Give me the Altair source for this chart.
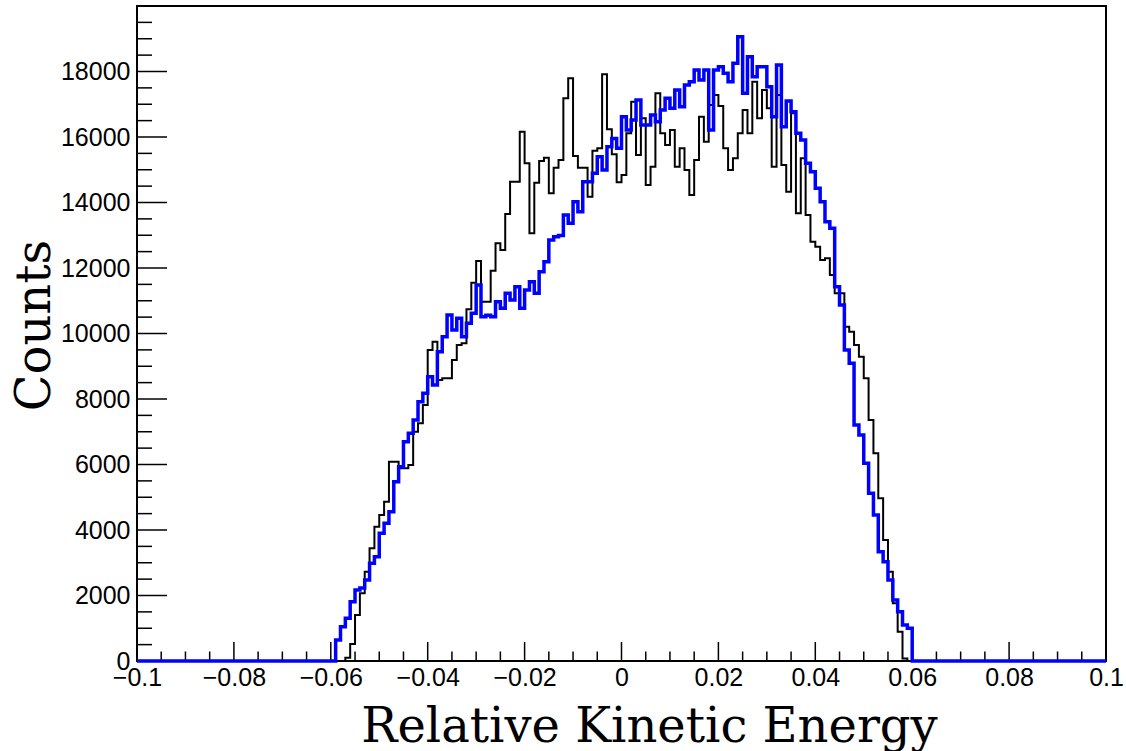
import altair as alt
import pandas as pd

# ---------------- data ----------------
X_MIN, X_MAX, N_BINS = -0.1, 0.1, 200
BIN_W = 0.001

# black histogram: first non-zero bin index and counts
black_start = 43
black_counts = [
    100, 520, 1404, 2067, 2727, 3440, 4102, 4458, 4865, 6086,
    6086, 5883, 5883, 5985, 7003, 7257, 7817, 9496, 9750, 8580,
    8631, 8631, 9190, 9649, 9700, 10738, 11552, 12214, 10972, 10972,
    11918, 12753, 12550, 13649, 14636, 14636, 16163, 15196, 13058, 14606,
    15267, 15369, 14280, 15064, 15298, 17181, 17792, 15420, 15064, 15064,
    14178, 15583, 15654, 17913, 16234, 15470, 14620, 14840, 16112, 17079,
    15450, 16570, 14534, 15094, 17333, 16112, 15756, 16214, 15094, 15654,
    14992, 14229, 15298, 16621, 15858, 16977, 17282, 16947, 15654, 14992,
    15349, 16112, 16824, 16112, 17690, 16570, 17435, 16876, 15094, 17282,
    15145, 14331, 16722, 13669, 15349, 13618, 12804, 12651, 12244, 12295,
    11786, 11226, 11226, 10208, 10056, 9649, 9292, 8631, 7359, 6342,
    4968, 3695, 2727, 1761, 895, 80,
]

# blue histogram: first non-zero bin index and counts
blue_start = 41
blue_counts = [
    641, 1047, 1303, 1811, 2168, 2230, 2473, 2983, 3185, 3899,
    4204, 4559, 5476, 5933, 6697, 6952, 7359, 7918, 8174, 8681,
    8427, 9444, 9902, 10565, 10107, 10463, 9900, 10310, 10616, 11481,
    10513, 10560, 10513, 10972, 10769, 11227, 11023, 11430, 10769, 11328,
    11582, 11227, 11887, 12193, 12855, 12957, 12990, 13618, 13364, 14025,
    13720, 14636, 14636, 14891, 15399, 14992, 15704, 15958, 15654, 16620,
    16213, 16519, 17130, 16366, 16366, 16672, 16469, 16825, 17181, 16876,
    17435, 16926, 17588, 17690, 18046, 17740, 18046, 16213, 18046, 18147,
    17944, 17690, 18250, 19063, 17334, 18453, 17842, 18147, 18147, 17537,
    16620, 18199, 16316, 17100, 16774, 16112, 15908, 15196, 14941, 14433,
    14025, 13415, 13211, 11430, 10870, 9496, 9089, 7206, 6901, 6036,
    5120, 4458, 3338, 3033, 2473, 1863, 1506, 1099, 999,
]

x_tick_values = [-0.1, -0.08, -0.06, -0.04, -0.02, 0, 0.02, 0.04, 0.06, 0.08, 0.1]
x_tick_labels = ["\u22120.1", "\u22120.08", "\u22120.06", "\u22120.04", "\u22120.02",
                 "0", "0.02", "0.04", "0.06", "0.08", "0.1"]
y_tick_values = [0, 2000, 4000, 6000, 8000, 10000, 12000, 14000, 16000, 18000]
y_tick_labels = ["0", "2000", "4000", "6000", "8000", "10000", "12000",
                 "14000", "16000", "18000"]
x_minor_step = 0.005
y_major_step, y_minor_step, Y_MAX = 2000, 500, 20000

x_title = "Relative Kinetic Energy"
y_title = "Counts"

# ---------------- build tables ----------------
edges = [round(X_MIN + i * BIN_W, 4) for i in range(N_BINS + 1)]


def full(start, counts):
    arr = [0] * N_BINS
    for i, c in enumerate(counts):
        arr[start + i] = c
    return arr


def step_df(vals):
    return pd.DataFrame({"x": edges, "y": vals + [vals[-1]]})


black_df = step_df(full(black_start, black_counts))
blue_df = step_df(full(blue_start, blue_counts))

n_xminor = int(round((X_MAX - X_MIN) / x_minor_step))
x_minor = [round(X_MIN + i * x_minor_step, 4) for i in range(n_xminor + 1)]
x_minor = [v for v in x_minor if all(abs(v - m) > 1e-9 for m in x_tick_values)]
y_major = list(range(0, Y_MAX + 1, y_major_step))
y_minor = [v for v in range(0, Y_MAX + 1, y_minor_step) if v % y_major_step]

W, H = 969, 655

xscale = alt.Scale(domain=[X_MIN, X_MAX], nice=False, zero=False)
yscale = alt.Scale(domain=[0, Y_MAX], nice=False)

x_label_expr = "[" + ",".join("'%s'" % s for s in x_tick_labels) + "][round((datum.value + 0.1) / 0.02)]"
y_label_expr = "[" + ",".join("'%s'" % s for s in y_tick_labels) + "][round(datum.value / 2000)]"

x_axis = alt.Axis(
    values=x_tick_values, labelExpr=x_label_expr, ticks=False, tickSize=0, domain=False,
    grid=False, labelFont="Liberation Sans", labelFontSize=25, labelColor="black",
    labelPadding=4, labelFlush=False, labelOverlap=False,
    title=x_title, titleFont="DejaVu Serif", titleFontSize=48, titleFontWeight="normal",
    titleColor="black", titleAnchor="middle", titleAlign="center", titleBaseline="alphabetic",
    titleX=512, titleY=80,
)
y_axis = alt.Axis(
    values=y_tick_values, labelExpr=y_label_expr, ticks=False, tickSize=0, domain=False,
    grid=False, labelFont="Liberation Sans", labelFontSize=25, labelColor="black",
    labelPadding=7, labelFlush=False, labelOverlap=False,
    title=y_title, titleFont="DejaVu Serif", titleFontSize=48, titleFontWeight="normal",
    titleColor="black", titleAngle=270, titleAlign="center", titleBaseline="alphabetic",
    titleX=-88, titleY=319,
)

X = lambda f: alt.X(f, scale=xscale, axis=x_axis)
Y = lambda f: alt.Y(f, scale=yscale, axis=y_axis)

black_line = alt.Chart(black_df).mark_line(
    interpolate="step-after", color="black", strokeWidth=2
).encode(x=X("x:Q"), y=Y("y:Q"))

blue_line = alt.Chart(blue_df).mark_line(
    interpolate="step-after", color="#0000ff", strokeWidth=3.5
).encode(x=X("x:Q"), y=Y("y:Q"))

xmaj = alt.Chart(pd.DataFrame({"x": x_tick_values})).mark_rule(color="black", strokeWidth=1.5).encode(
    x=X("x:Q"), y=alt.value(H), y2=alt.value(H - 19))
xmin = alt.Chart(pd.DataFrame({"x": x_minor})).mark_rule(color="black", strokeWidth=1.5).encode(
    x=X("x:Q"), y=alt.value(H), y2=alt.value(H - 9.5))
ymaj = alt.Chart(pd.DataFrame({"y": y_major})).mark_rule(color="black", strokeWidth=1.5).encode(
    y=Y("y:Q"), x=alt.value(0), x2=alt.value(30))
ymin = alt.Chart(pd.DataFrame({"y": y_minor})).mark_rule(color="black", strokeWidth=1.5).encode(
    y=Y("y:Q"), x=alt.value(0), x2=alt.value(15))

chart = alt.layer(black_line, xmaj, xmin, ymaj, ymin, blue_line).properties(
    width=W, height=H,
    autosize=alt.AutoSizeParams(type="none"),
    padding={"left": 137, "top": 6, "right": 20, "bottom": 90},
    background="white",
).configure_view(stroke="black", strokeWidth=2)

chart.save("out.html", embed_options={"renderer": "svg", "actions": False})
